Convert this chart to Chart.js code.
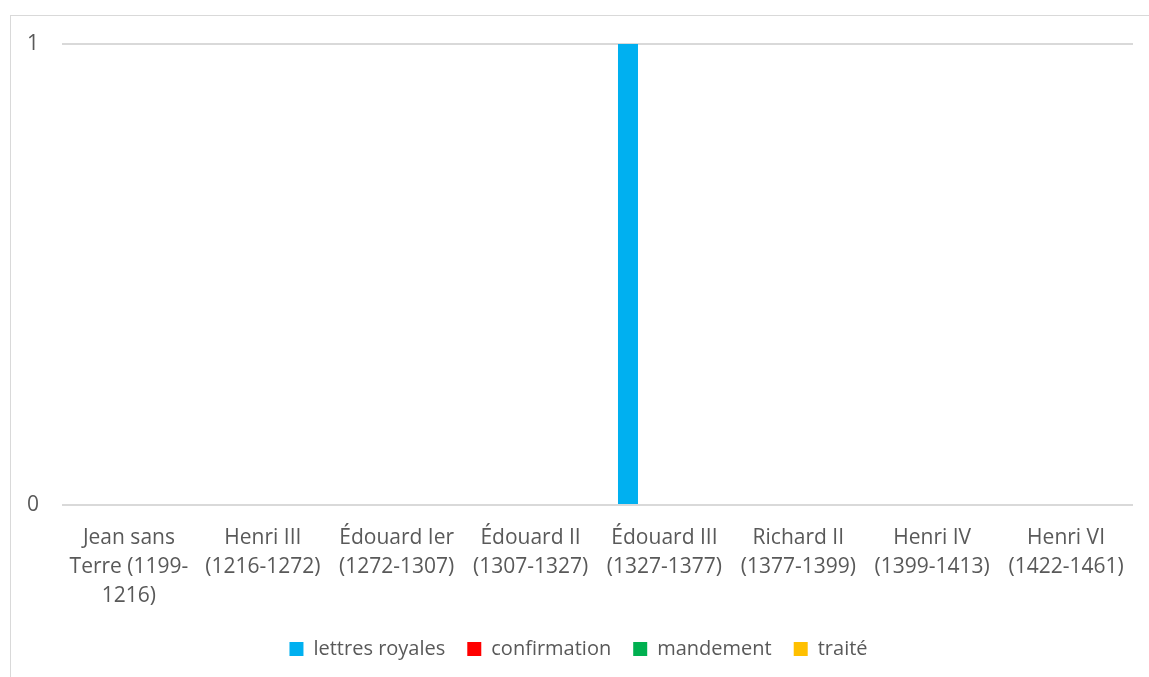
<!DOCTYPE html>
<html>
<head>
<meta charset="utf-8">
<script src="https://cdn.jsdelivr.net/npm/chart.js@4.4.0/dist/chart.umd.min.js"></script>
<style>
  html, body { margin: 0; padding: 0; background: #fff; }
  #wrap { position: relative; width: 1149px; height: 677px; overflow: hidden; }
  #frame {
    position: absolute; left: 10px; top: 15px; width: 1200px; height: 700px;
    border-left: 1px solid #d9d9d9; border-top: 1px solid #d9d9d9;
  }
  #chart { position: absolute; left: 0; top: 0; }
</style>
</head>
<body>
<div id="wrap">
  <div id="frame"></div>
  <canvas id="chart" width="1149" height="677"></canvas>
</div>
<script>
// Categories (reigns), wrapped like the original axis labels
const reigns = [
  ['Jean sans', 'Terre (1199-', '1216)'],
  ['Henri III', '(1216-1272)'],
  ['Édouard Ier', '(1272-1307)'],
  ['Édouard II', '(1307-1327)'],
  ['Édouard III', '(1327-1377)'],
  ['Richard II', '(1377-1399)'],
  ['Henri IV', '(1399-1413)'],
  ['Henri VI', '(1422-1461)']
];

// Series values
const lettresRoyales = [0, 0, 0, 0, 1, 0, 0, 0];
const confirmation = [0, 0, 0, 0, 0, 0, 0, 0];
const mandement = [0, 0, 0, 0, 0, 0, 0, 0];
const traite = [0, 0, 0, 0, 0, 0, 0, 0];

const yTicks = [0, 1];

const textColor = '#595959';
const gridColor = '#d9d9d9';
const fontFamily = '"Open Sans", "Noto Sans", sans-serif';

function series(label, data, color) {
  return {
    label: label,
    data: data,
    backgroundColor: color,
    borderWidth: 0,
    categoryPercentage: 0.726,
    barPercentage: 0.823
  };
}

new Chart(document.getElementById('chart'), {
  type: 'bar',
  data: {
    labels: reigns,
    datasets: [
      series('lettres royales', lettresRoyales, '#00b0f0'),
      series('confirmation', confirmation, '#ff0000'),
      series('mandement', mandement, '#00b050'),
      series('traité', traite, '#ffc000')
    ]
  },
  options: {
    responsive: false,
    animation: false,
    layout: {
      padding: { left: 24, top: 44, right: 16, bottom: 8 }
    },
    scales: {
      x: {
        grid: { display: false },
        border: { display: false },
        ticks: {
          color: textColor,
          padding: 11,
          maxRotation: 0,
          autoSkip: false,
          font: { family: fontFamily, size: 21, lineHeight: 1.38 }
        },
        afterFit: (scale) => { scale.height = 112; }
      },
      y: {
        min: yTicks[0],
        max: yTicks[yTicks.length - 1],
        afterBuildTicks: (scale) => {
          scale.ticks = yTicks.map((v) => ({ value: v }));
        },
        grid: { color: gridColor, lineWidth: 2, drawTicks: false },
        border: { display: false },
        ticks: {
          color: textColor,
          padding: 23,
          font: { family: fontFamily, size: 21 }
        },
        afterFit: (scale) => { scale.width = 38; }
      }
    },
    plugins: {
      legend: {
        position: 'bottom',
        labels: {
          color: textColor,
          boxWidth: 14,
          boxHeight: 14,
          padding: 22,
          font: { family: fontFamily, size: 20 }
        }
      },
      tooltip: { enabled: false }
    }
  }
});
</script>
</body>
</html>
